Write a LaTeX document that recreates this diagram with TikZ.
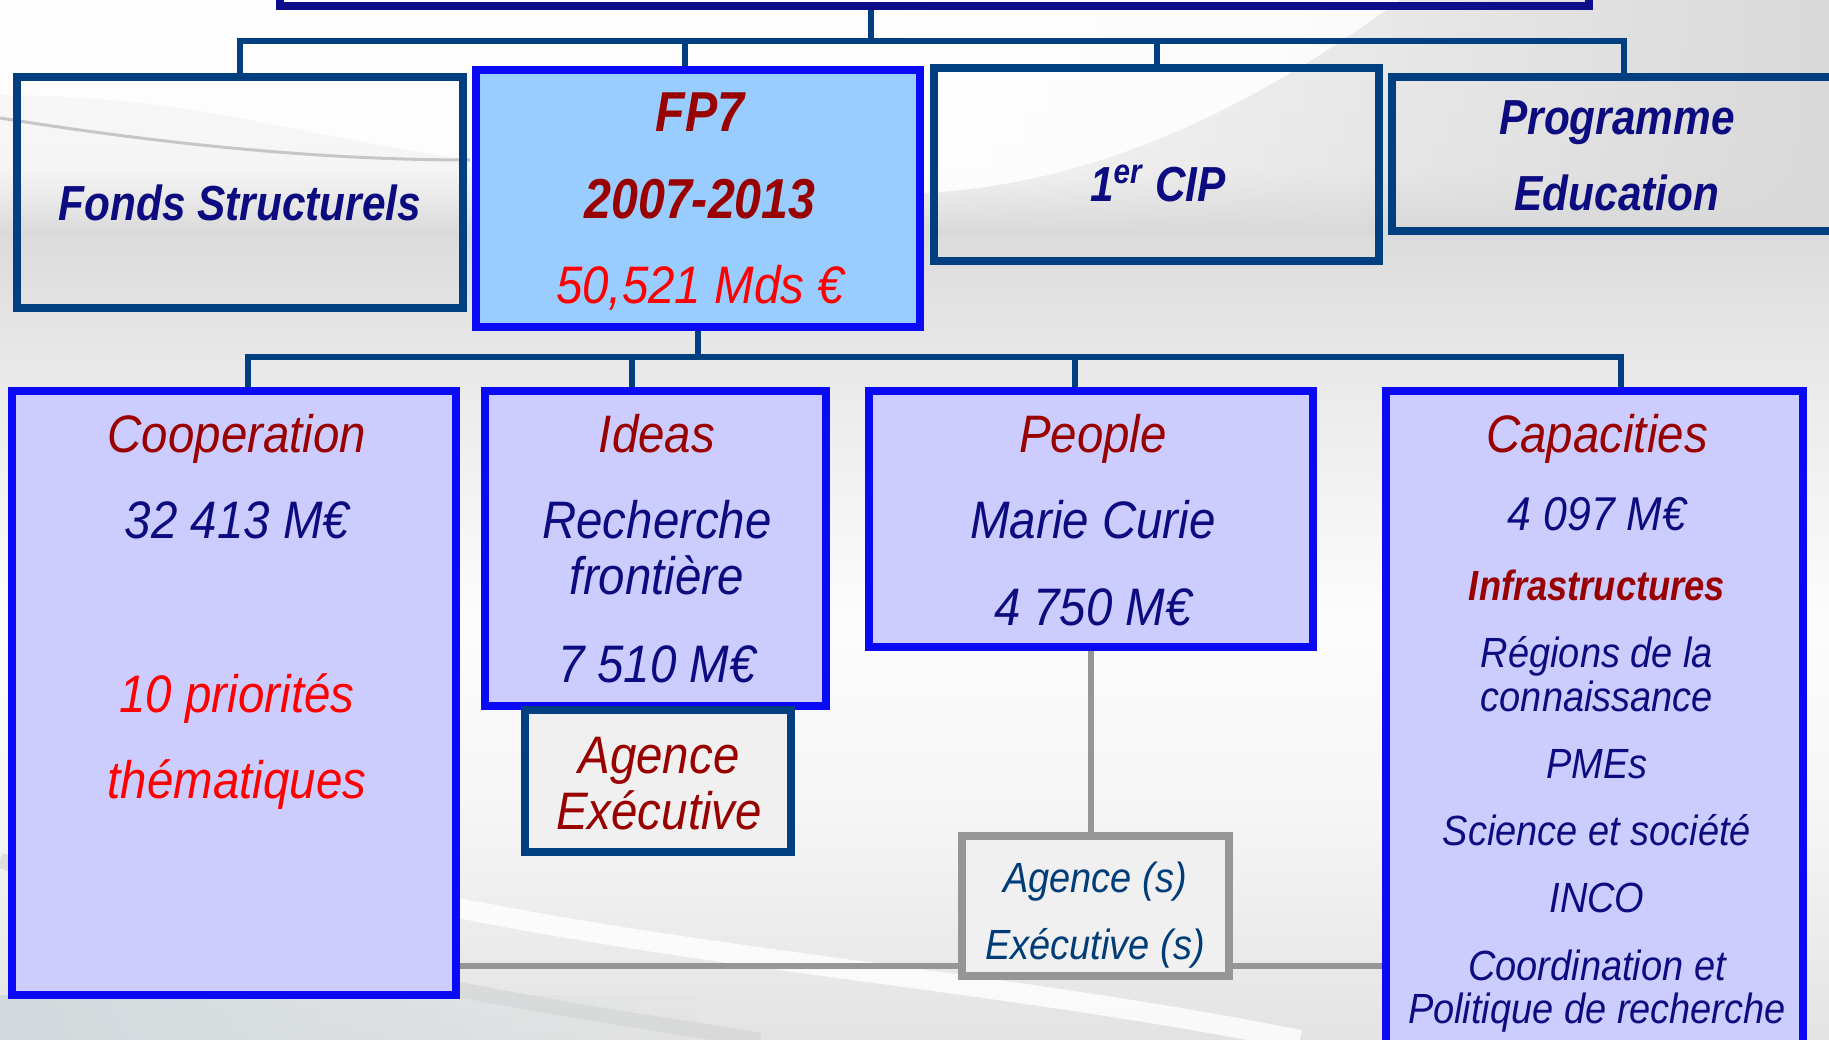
\documentclass[tikz,border=0pt]{standalone}
\usepackage{fontspec}
\setmainfont{Liberation Sans}[FakeStretch=0.9]
\newfontfamily\rowfont{Liberation Sans}[FakeStretch=0.86]
\usetikzlibrary{fadings}

\definecolor{navy}{RGB}{12,12,128}
\definecolor{topnavy}{RGB}{14,14,138}
\definecolor{linkblue}{RGB}{0,64,128}
\definecolor{boxblue}{RGB}{10,10,245}
\definecolor{skyfill}{RGB}{153,204,255}
\definecolor{lavender}{RGB}{204,204,255}
\definecolor{agfill}{RGB}{240,240,240}
\definecolor{linkgray}{RGB}{150,150,150}
\definecolor{agtext}{RGB}{0,60,120}
\definecolor{darkred}{RGB}{153,0,0}
\definecolor{brightred}{RGB}{255,0,0}

\tikzfading[name=fade in right, left color=transparent!100, right color=transparent!0]
\tikzfading[name=fade out right, left color=transparent!0, right color=transparent!100]

\tikzset{
    box/.style={draw=linkblue, line width=0.075cm, inner sep=0pt},
    progbox/.style={draw=boxblue, line width=0.08cm, fill=lavender, inner sep=0pt},
    link/.style={draw=linkblue, line width=0.06cm},
    glink/.style={draw=linkgray, line width=0.06cm},
    lbl/.style={inner sep=0pt, text height=0.72em, text depth=0pt},
    txtrow/.style={lbl, text=navy, font=\rowfont\fontsize{14}{17}\selectfont\bfseries\itshape},
    txthead/.style={lbl, text=darkred, font=\rowfont\fontsize{16}{19}\selectfont\bfseries\itshape},
    txtbig/.style={lbl, text=navy, font=\fontsize{15}{18}\selectfont\itshape},
    txtmid/.style={lbl, text=navy, font=\fontsize{13.5}{16}\selectfont\itshape},
    txtsmall/.style={lbl, text=navy, font=\fontsize{12}{14}\selectfont\itshape}
}

\begin{document}
\begin{tikzpicture}[x=0.01cm, y=-0.01cm]
    \useasboundingbox (0,0) rectangle (1829,1040);
    \clip (0,0) rectangle (1829,1040);

    \shade[top color=gray!4, bottom color=gray!8] (0,0) rectangle (1829,170);
    \shade[top color=gray!8, bottom color=gray!30] (0,170) rectangle (1829,235);
    \shade[top color=gray!28, bottom color=gray!18] (0,235) rectangle (1829,360);
    \shade[top color=gray!18, bottom color=gray!2] (0,360) rectangle (1829,620);
    \shade[top color=gray!2, bottom color=gray!8] (0,620) rectangle (1829,820);
    \shade[top color=gray!8, bottom color=gray!22] (0,820) rectangle (1829,1040);
    \fill[gray!30, path fading=fade in right] (900,0) rectangle (1829,235);
    \fill[white, opacity=0.85] (0,0) -- (1400,0)
        .. controls (1250,110) and (1100,180) .. (939,192)
        .. controls (700,205) and (450,160) .. (250,120)
        .. controls (150,100) and (60,95) .. (0,95) -- cycle;
    \draw[gray!45, line width=0.03cm] (0,118) .. controls (200,150) and (350,160) .. (470,160);
    \draw[gray!35, line width=0.15cm, opacity=0.6] (0,860) .. controls (250,960) and (500,1000) .. (760,1040);
    \draw[white, line width=0.2cm, opacity=0.8] (420,900) .. controls (700,960) and (1000,980) .. (1300,1040);
    \fill[cyan!15!gray!35, path fading=fade out right] (0,995) rectangle (700,1040);

    \node[box, draw=topnavy, line width=0.08cm, minimum width=13.09cm, minimum height=1.06cm] (top) at (934.5,-47) {};
    \node[box, minimum width=4.46cm, minimum height=2.31cm] (fonds) at (240,192.5) {};
    \node[box, draw=boxblue, fill=skyfill, line width=0.08cm, minimum width=4.44cm, minimum height=2.57cm] (fp7) at (698,198.5) {};
    \node[box, minimum width=4.45cm, minimum height=1.93cm] (cip) at (1156.5,164.5) {};
    \node[box, minimum width=4.64cm, minimum height=1.54cm] (prog) at (1624,154) {};
    \node[progbox, minimum width=4.44cm, minimum height=6.04cm] (coop) at (234,693) {};
    \node[progbox, minimum width=3.41cm, minimum height=3.15cm] (ideas) at (655.5,548.5) {};
    \node[box, fill=agfill, minimum width=2.66cm, minimum height=1.42cm] (agexe) at (658,781) {};
    \node[progbox, minimum width=4.44cm, minimum height=2.56cm] (people) at (1091,519) {};
    \node[box, draw=linkgray, fill=agfill, minimum width=2.67cm, minimum height=1.40cm] (ags) at (1095.5,906) {};
    \node[progbox, minimum width=4.17cm, minimum height=6.69cm] (cap) at (1594.5,725.5) {};

    \coordinate (t1) at (871,41);
    \coordinate (t2) at (693,357);
    \coordinate (g) at (0,966);
    \coordinate (d1) at ([xshift=-0.13cm]fp7.north);
    \coordinate (c1) at ([xshift=0.14cm]coop.north);
    \coordinate (c2) at ([xshift=-0.235cm]ideas.north);
    \coordinate (c3) at ([xshift=-0.16cm]people.north);
    \coordinate (c4) at ([xshift=0.265cm]cap.north);

    \draw[link] (t1 |- top.south) -- (t1);
    \draw[link] (fonds.north) -- (fonds.north |- t1) -- (prog.north |- t1) -- (prog.north);
    \draw[link] (d1) -- (d1 |- t1);
    \draw[link] (cip.north) -- (cip.north |- t1);

    \draw[link] (fp7.south) -- (fp7.south |- t2);
    \draw[link] (c1) -- (c1 |- t2) -- (c4 |- t2) -- (c4);
    \draw[link] (c2) -- (c2 |- t2);
    \draw[link] (c3) -- (c3 |- t2);

    \draw[glink] (people.south) -- (people.south |- ags.north);
    \draw[glink] (coop.east |- g) -- (ags.west |- g);
    \draw[glink] (ags.east |- g) -- (cap.west |- g);

    \node[txtrow] (fonds-a) at (240,208) {Fonds Structurels};

    \node[txthead] (fp7-a) at (700,119) {FP7};
    \node[txthead] (fp7-b) at (700,206) {2007-2013};
    \node[txtbig, text=brightred] (fp7-c) at (700,291) {50,521 Mds €};

    \node[txtrow] (cip-a) at (1158,189) {1\textsuperscript{er} CIP};

    \node[txtrow] (prog-a) at (1617,122) {Programme};
    \node[txtrow] (prog-b) at (1617,198) {Education};

    \node[txtbig, text=darkred] (coop-a) at (237,440) {Cooperation};
    \node[txtbig] (coop-b) at (237,526) {32 413 M€};
    \node[txtbig, text=brightred] (coop-c) at (237,700) {10 priorités};
    \node[txtbig, text=brightred] (coop-d) at (237,786) {thématiques};

    \node[txtbig, text=darkred] (ideas-a) at (657,440) {Ideas};
    \node[txtbig] (ideas-b) at (657,526) {Recherche};
    \node[txtbig] (ideas-c) at (657,582) {frontière};
    \node[txtbig] (ideas-d) at (657,670) {7 510 M€};

    \node[txtbig, text=darkred] (agexe-a) at (659,761) {Agence};
    \node[txtbig, text=darkred] (agexe-b) at (659,817) {Exécutive};

    \node[txtbig, text=darkred] (people-a) at (1093,440) {People};
    \node[txtbig] (people-b) at (1093,526) {Marie Curie};
    \node[txtbig] (people-c) at (1093,613) {4 750 M€};

    \node[txtsmall, text=agtext] (ags-a) at (1095,880) {Agence (s)};
    \node[txtsmall, text=agtext] (ags-b) at (1095,947) {Exécutive (s)};

    \node[txtbig, text=darkred] (cap-a) at (1597,440) {Capacities};
    \node[txtmid] (cap-b) at (1597,518) {4 097 M€};
    \node[txtsmall, text=darkred, font=\rowfont\fontsize{12}{14}\selectfont\bfseries\itshape] (cap-c) at (1597,588) {Infrastructures};
    \node[txtsmall] (cap-d) at (1597,655) {Régions de la};
    \node[txtsmall] (cap-e) at (1597,699) {connaissance};
    \node[txtsmall] (cap-f) at (1597,766) {PMEs};
    \node[txtsmall] (cap-g) at (1597,833) {Science et société};
    \node[txtsmall] (cap-h) at (1597,900) {INCO};
    \node[txtsmall] (cap-i) at (1597,968) {Coordination et};
    \node[txtsmall] (cap-j) at (1597,1011) {Politique de recherche};
\end{tikzpicture}
\end{document}
